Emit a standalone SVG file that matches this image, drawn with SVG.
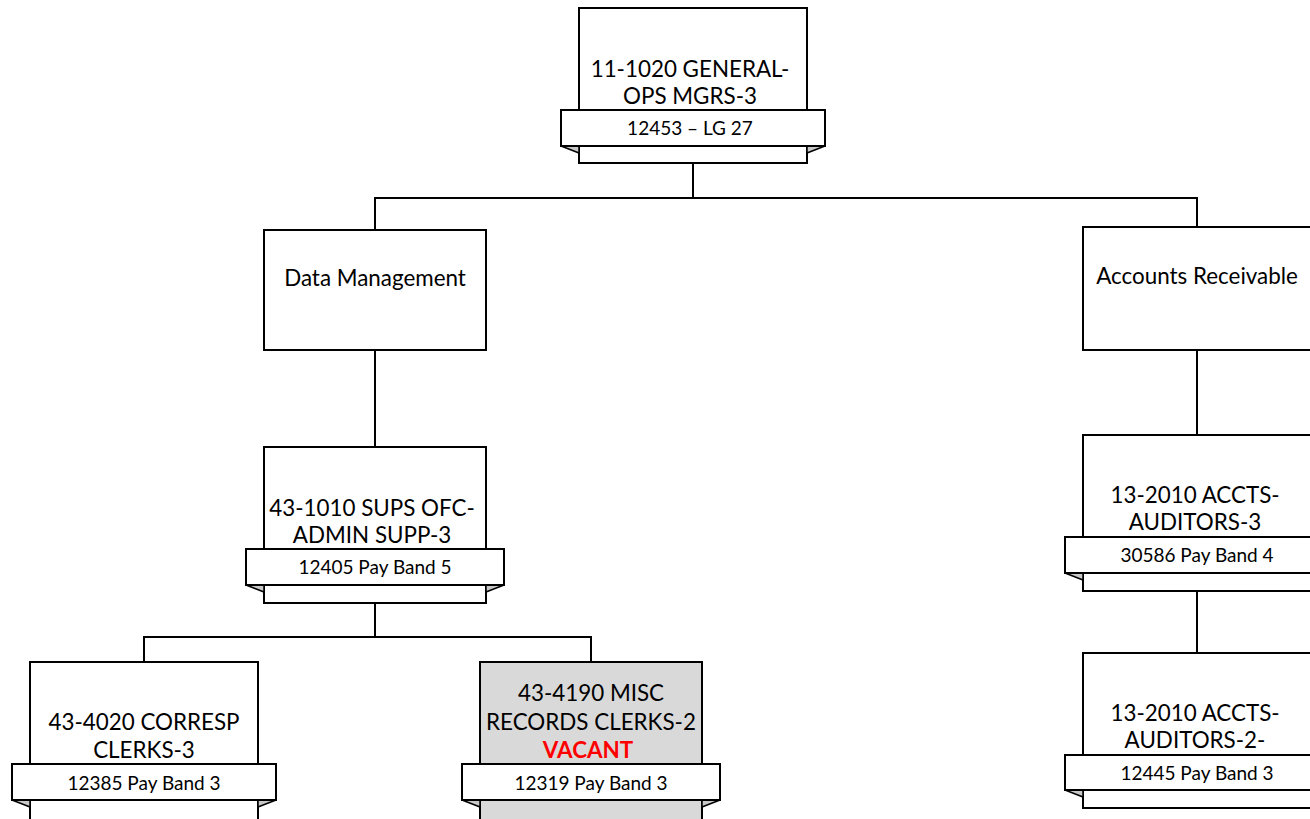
<svg xmlns="http://www.w3.org/2000/svg" width="1310" height="819" viewBox="0 0 1310 819">
<style>
.box{fill:#fff;stroke:#000;stroke-width:2}
.gray{fill:#d9d9d9}
.rib{fill:#fff;stroke:#000;stroke-width:2}
.fold{fill:#c8c8c8;stroke:#000;stroke-width:1.5;stroke-linejoin:round}
.t{font-family:Lato,"Liberation Sans",sans-serif;font-size:22.4px;fill:#000;text-anchor:middle}
.r{font-family:Lato,"Liberation Sans",sans-serif;font-size:19px;fill:#000;text-anchor:middle}
.vac{font-weight:bold;fill:#ff0000}
.conn{fill:none;stroke:#000;stroke-width:2}
</style>
<rect width="1310" height="819" fill="#fff"/>
<g id="connectors">
<path class="conn" d="M693 163V198M375 230V198H1197V227"/>
<path class="conn" d="M375 350V447"/>
<path class="conn" d="M375 603V637M144 662V637H591V662"/>
<path class="conn" d="M1197 350V435"/>
<path class="conn" d="M1197 591V653"/>
</g>
<g id="n-gm">
<rect class="box" x="579" y="8" width="228" height="155"/>
<text class="t" x="690" y="77">11-1020 GENERAL-</text>
<text class="t" x="690" y="104">OPS MGRS-3</text>
<polygon class="fold" points="561,146 579,153 579,146"/>
<polygon class="fold" points="825,146 807,153 807,146"/>
<rect class="rib" x="561" y="110" width="264" height="36"/>
<text class="r" x="690" y="135">12453 – LG 27</text>
</g>
<g id="n-dm">
<rect class="box" x="264" y="230" width="222" height="120"/>
<text class="t" x="375" y="286">Data Management</text>
</g>
<g id="n-ar">
<rect class="box" x="1083" y="227" width="228" height="123"/>
<text class="t" x="1197" y="284">Accounts Receivable</text>
</g>
<g id="n-sups">
<rect class="box" x="264" y="447" width="222" height="156"/>
<text class="t" x="372" y="516">43-1010 SUPS OFC-</text>
<text class="t" x="372" y="543">ADMIN SUPP-3</text>
<polygon class="fold" points="246,585 264,592 264,585"/>
<polygon class="fold" points="504,585 486,592 486,585"/>
<rect class="rib" x="246" y="549" width="258" height="36"/>
<text class="r" x="375" y="574">12405 Pay Band 5</text>
</g>
<g id="n-corresp">
<rect class="box" x="30" y="662" width="228" height="170"/>
<text class="t" x="144" y="730">43-4020 CORRESP</text>
<text class="t" x="144" y="758">CLERKS-3</text>
<polygon class="fold" points="12,800 30,807 30,800"/>
<polygon class="fold" points="276,800 258,807 258,800"/>
<rect class="rib" x="12" y="764" width="264" height="36"/>
<text class="r" x="144" y="790">12385 Pay Band 3</text>
</g>
<g id="n-misc">
<rect class="box gray" x="480" y="662" width="222" height="170"/>
<text class="t" x="591" y="701">43-4190 MISC</text>
<text class="t" x="591" y="730">RECORDS CLERKS-2</text>
<text class="t vac" x="588" y="758">VACANT</text>
<polygon class="fold" points="462,800 480,807 480,800"/>
<polygon class="fold" points="720,800 702,807 702,800"/>
<rect class="rib" x="462" y="764" width="258" height="36"/>
<text class="r" x="591" y="790">12319 Pay Band 3</text>
</g>
<g id="n-acct3">
<rect class="box" x="1083" y="435" width="228" height="156"/>
<text class="t" x="1195" y="503">13-2010 ACCTS-</text>
<text class="t" x="1195" y="530">AUDITORS-3</text>
<polygon class="fold" points="1065,573 1083,580 1083,573"/>
<rect class="rib" x="1065" y="537" width="264" height="36"/>
<text class="r" x="1197" y="562">30586 Pay Band 4</text>
</g>
<g id="n-acct2">
<rect class="box" x="1083" y="653" width="228" height="155"/>
<text class="t" x="1195" y="721">13-2010 ACCTS-</text>
<text class="t" x="1195" y="748">AUDITORS-2-</text>
<polygon class="fold" points="1065,790 1083,797 1083,790"/>
<rect class="rib" x="1065" y="755" width="264" height="35"/>
<text class="r" x="1197" y="780">12445 Pay Band 3</text>
</g>
</svg>
